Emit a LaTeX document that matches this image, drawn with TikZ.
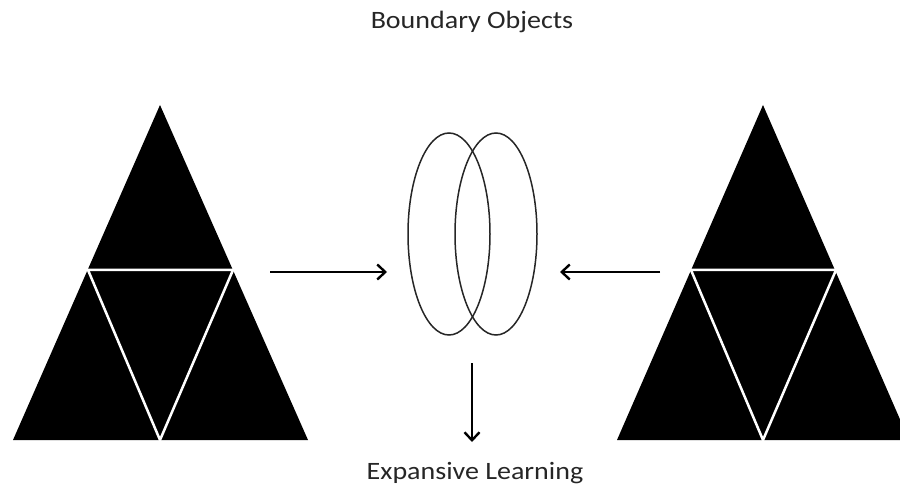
\documentclass[tikz,border=0pt]{standalone}
\usepackage{fontspec}
\setmainfont{Carlito}
\usetikzlibrary{arrows.meta}
\begin{document}
\begin{tikzpicture}[x=1pt,y=-1pt,
  tri/.style={fill=black},
  divline/.style={draw=white,line width=2.5pt,line join=miter},
  loop/.style={draw=black!85,line width=1.5pt},
  flow/.style={draw=black,line width=2.8pt,-{Straight Barb[length=8pt,width=15pt,line width=2.4pt]}},
  lbl/.style={font=\fontsize{25}{28}\selectfont,text=black!85,inner sep=0pt}]
\clip (0,0) rectangle (900,489);
% left triangle
\coordinate (La) at (160,105);
\coordinate (Lb) at (13,440);
\coordinate (Lc) at (308,440);
\coordinate (Lm1) at (88,270);
\coordinate (Lm2) at (233,270);
\coordinate (Lm3) at (160,440);
\fill[tri] (La) -- (Lb) -- (Lc) -- cycle;
\draw[divline] (Lm1) -- (Lm2) -- (Lm3) -- cycle;
% right triangle
\coordinate (Ra) at (763,105);
\coordinate (Rb) at (617,440);
\coordinate (Rc) at (909,440);
\coordinate (Rm1) at (691,270);
\coordinate (Rm2) at (836,270);
\coordinate (Rm3) at (763,440);
\fill[tri] (Ra) -- (Rb) -- (Rc) -- cycle;
\draw[divline] (Rm1) -- (Rm2) -- (Rm3) -- cycle;
% boundary object loops
\draw[loop] (449,234) ellipse [x radius=41, y radius=101];
\draw[loop] (496,234) ellipse [x radius=41, y radius=101];
% arrows
\coordinate (A1s) at (270,272);
\coordinate (A1e) at (387,272);
\coordinate (A2s) at (660,272);
\coordinate (A2e) at (560,272);
\coordinate (A3s) at (472,363);
\coordinate (A3e) at (472,442);
\draw[flow] (A1s) -- (A1e);
\draw[flow] (A2s) -- (A2e);
\draw[flow] (A3s) -- (A3e);
% labels
\node[lbl,anchor=base] (top) at (472,29) {\scalebox{1.12}[1]{Boundary Objects}};
\node[lbl,anchor=base] (bot) at (475,479) {\scalebox{1.12}[1]{Expansive Learning}};
\end{tikzpicture}
\end{document}
